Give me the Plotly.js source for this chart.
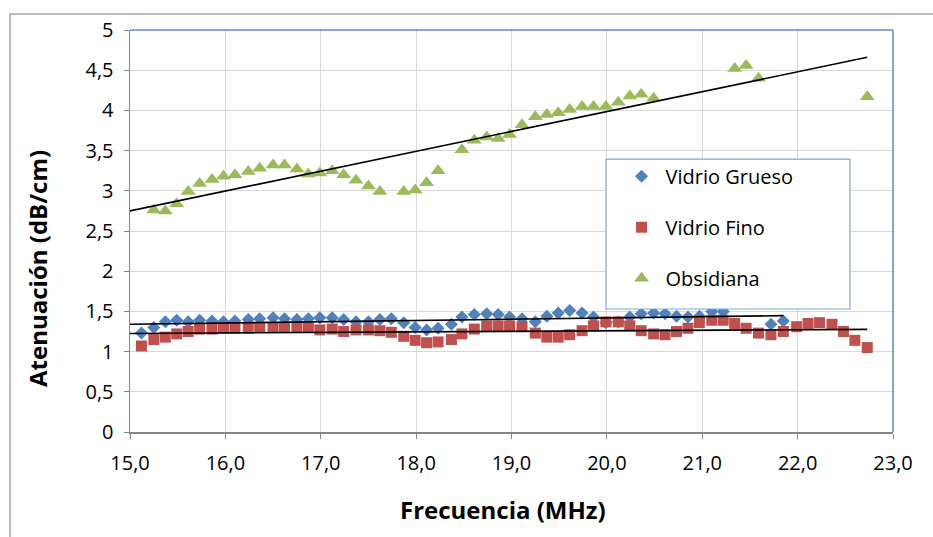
<!DOCTYPE html>
<html>
<head>
<meta charset="utf-8">
<script src="https://cdn.plot.ly/plotly-3.0.1.min.js"></script>
<style>html,body{margin:0;padding:0;background:#fff;}#chart{width:933px;height:537px;}</style>
</head>
<body>
<div id="chart"></div>
<script>
// Frequencies (MHz)
var frecuencia = [15.12, 15.25, 15.37, 15.49, 15.61, 15.73, 15.86, 15.98, 16.10, 16.24,
  16.36, 16.50, 16.62, 16.75, 16.87, 16.99, 17.12, 17.24, 17.37, 17.50,
  17.62, 17.74, 17.87, 17.99, 18.11, 18.23, 18.37, 18.48, 18.61, 18.74,
  18.86, 18.98, 19.11, 19.25, 19.37, 19.49, 19.61, 19.74, 19.86, 19.99,
  20.12, 20.24, 20.36, 20.49, 20.61, 20.73, 20.85, 20.97, 21.10, 21.22,
  21.34, 21.46, 21.59, 21.72, 21.85, 21.99, 22.11, 22.23, 22.36, 22.48,
  22.60, 22.73];

var vidrioGrueso = [1.23, 1.30, 1.37, 1.39, 1.37, 1.39, 1.38, 1.37, 1.38, 1.40,
  1.41, 1.42, 1.41, 1.40, 1.41, 1.42, 1.42, 1.40, 1.37, 1.37,
  1.40, 1.41, 1.36, 1.30, 1.27, 1.29, 1.34, 1.43, 1.46, 1.47,
  1.46, 1.43, 1.41, 1.37, 1.44, 1.48, 1.51, 1.48, 1.43, 1.36,
  1.37, 1.43, 1.47, 1.48, 1.47, 1.44, 1.43, 1.44, 1.50, 1.50,
  null, null, null, 1.34, 1.38, null, null, null, null, null,
  null, null];

var vidrioFino = [1.07, 1.15, 1.18, 1.22, 1.25, 1.28, 1.28, 1.29, 1.29, 1.29,
  1.30, 1.30, 1.30, 1.30, 1.30, 1.27, 1.28, 1.25, 1.27, 1.27,
  1.26, 1.24, 1.19, 1.14, 1.11, 1.12, 1.15, 1.22, 1.28, 1.32,
  1.32, 1.32, 1.31, 1.23, 1.18, 1.18, 1.21, 1.26, 1.32, 1.37,
  1.37, 1.32, 1.26, 1.22, 1.21, 1.25, 1.29, 1.36, 1.39, 1.39,
  1.35, 1.29, 1.23, 1.21, 1.25, 1.31, 1.35, 1.36, 1.34, 1.25,
  1.14, 1.05];

var obsidiana = [null, 2.76, 2.75, 2.84, 2.99, 3.09, 3.14, 3.18, 3.20, 3.24,
  3.28, 3.32, 3.32, 3.27, 3.21, 3.22, 3.25, 3.20, 3.13, 3.06,
  2.99, null, 2.99, 3.01, 3.10, 3.25, null, 3.51, 3.63, 3.67,
  3.65, 3.70, 3.82, 3.92, 3.95, 3.97, 4.01, 4.05, 4.05, 4.05,
  4.10, 4.18, 4.20, 4.15, null, null, null, null, null, null,
  4.52, 4.56, 4.40, null, null, null, null, null, null, null,
  null, 4.17];

// Linear trend lines (end points)
var trendGruesoX = [15.0, 21.85], trendGruesoY = [1.34, 1.447];
var trendFinoX = [15.0, 22.73], trendFinoY = [1.225, 1.277];
var trendObsX = [15.0, 22.73], trendObsY = [2.75, 4.66];

var seriesNames = ['Vidrio Grueso', 'Vidrio Fino', 'Obsidiana'];
var xTicks = [15, 16, 17, 18, 19, 20, 21, 22, 23];
var yTicks = [0, 0.5, 1, 1.5, 2, 2.5, 3, 3.5, 4, 4.5, 5];
var xTitle = 'Frecuencia (MHz)';
var yTitle = 'Atenuación (dB/cm)';

var FONT = 'Open Sans, Noto Sans, DejaVu Sans, sans-serif';

var traces = [
  {x: frecuencia, y: vidrioGrueso, name: seriesNames[0], type: 'scatter', mode: 'markers',
   legendgroup: 'a', marker: {symbol: 'diamond', size: 10, color: '#4F81BD'}},
  {x: frecuencia, y: vidrioFino, name: seriesNames[1], type: 'scatter', mode: 'markers',
   legendgroup: 'b', marker: {symbol: 'square', size: 11, color: '#C0504D'}},
  {x: frecuencia, y: obsidiana, name: seriesNames[2], type: 'scatter', mode: 'markers',
   legendgroup: 'c', marker: {symbol: 'triangle-up', size: 13, color: '#9BBB59'}},
  {x: trendGruesoX, y: trendGruesoY, type: 'scatter', mode: 'lines', showlegend: false,
   line: {color: '#000', width: 1.6}, hoverinfo: 'skip'},
  {x: trendFinoX, y: trendFinoY, type: 'scatter', mode: 'lines', showlegend: false,
   line: {color: '#000', width: 1.6}, hoverinfo: 'skip'},
  {x: trendObsX, y: trendObsY, type: 'scatter', mode: 'lines', showlegend: false,
   line: {color: '#000', width: 1.6}, hoverinfo: 'skip'}
];

var axisCommon = {
  showgrid: true, gridcolor: '#D9D9D9', gridwidth: 1,
  zeroline: false, showline: true, linecolor: '#868686', linewidth: 1.5,
  ticks: 'outside', ticklen: 5, tickcolor: '#868686', tickwidth: 1,
  tickfont: {family: FONT, size: 20, color: '#000'},
  automargin: false, fixedrange: true
};

var layout = {
  width: 933, height: 537,
  margin: {l: 130, r: 40, t: 30, b: 105},
  paper_bgcolor: '#fff', plot_bgcolor: '#fff',
  separators: ',.',
  font: {family: FONT, color: '#000'},
  showlegend: true,
  xaxis: Object.assign({}, axisCommon, {
    range: [15, 23], tickvals: xTicks, tickformat: '.1f', ticklabelstandoff: 7
  }),
  yaxis: Object.assign({}, axisCommon, {
    range: [0, 5], tickvals: yTicks, ticklabelstandoff: 6
  }),
  annotations: [
    {text: '<b>' + xTitle + '</b>', xref: 'paper', yref: 'paper', x: 0.4889, y: -0.194,
     xanchor: 'center', yanchor: 'middle', showarrow: false,
     font: {family: FONT, size: 24, color: '#000'}},
    {text: '<b>' + yTitle + '</b>', xref: 'paper', yref: 'paper', x: -0.1206, y: 0.408,
     xanchor: 'center', yanchor: 'middle', showarrow: false, textangle: -90,
     font: {family: FONT, size: 24, color: '#000'}}
  ],
  legend: {
    x: 0.639, xanchor: 'left', y: 0.685, yanchor: 'top',
    bgcolor: 'rgba(0,0,0,0)', borderwidth: 0,
    font: {family: FONT, size: 20, color: '#000'},
    traceorder: 'grouped', tracegroupgap: 22, itemwidth: 38
  },
  shapes: [
    // outer chart border
    {type: 'rect', xref: 'paper', yref: 'paper', x0: -0.1573, x1: 1.2, y0: -0.4, y1: 1.0398,
     line: {color: '#A6A6A6', width: 1.5}, fillcolor: 'rgba(0,0,0,0)', layer: 'below'},
    // top & right plot frame lines
    {type: 'line', xref: 'paper', yref: 'paper', x0: 0, x1: 1, y0: 1, y1: 1,
     line: {color: '#5B8BC9', width: 1.5}, layer: 'above'},
    {type: 'line', xref: 'paper', yref: 'paper', x0: 1, x1: 1, y0: 0, y1: 1,
     line: {color: '#5B8BC9', width: 1.5}, layer: 'above'},
    // legend box
    {type: 'rect', xref: 'paper', yref: 'paper', x0: 0.6239, x1: 0.9436, y0: 0.306, y1: 0.679,
     line: {color: '#7FA7D9', width: 1.2}, fillcolor: '#fff', layer: 'above'}
  ]
};

Plotly.newPlot('chart', traces, layout, {displayModeBar: false, staticPlot: true});
</script>
</body>
</html>
